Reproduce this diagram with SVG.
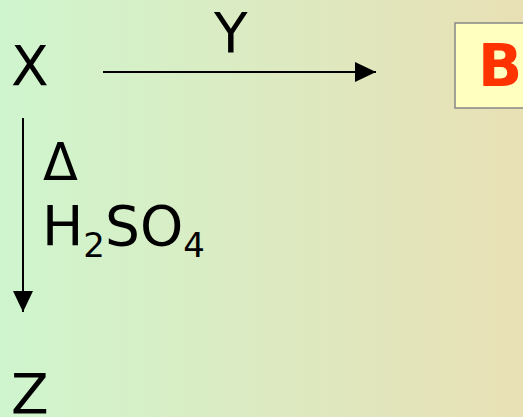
<svg xmlns="http://www.w3.org/2000/svg" width="523" height="417" viewBox="0 0 523 417">
<defs>
<linearGradient id="bg" x1="0" y1="0" x2="1" y2="0">
<stop offset="0" stop-color="#CFF5CE"/>
<stop offset="1" stop-color="#E9E0B5"/>
</linearGradient>
<marker id="ah" viewBox="0 0 21 20" refX="21" refY="10" markerWidth="21" markerHeight="20" markerUnits="userSpaceOnUse" orient="auto">
<path d="M0,0 L21,10 L0,20 Z" fill="#000"/>
</marker>
<style>
.t{font-family:"DejaVu Sans",sans-serif;font-size:55px;fill:#000}
.c{stroke:#000;stroke-width:2;fill:none;marker-end:url(#ah)}
</style>
</defs>
<rect width="523" height="417" fill="url(#bg)"/>
<g id="connectors">
<line class="c" x1="103" y1="72" x2="376" y2="72"/>
<line class="c" x1="23" y1="118" x2="23" y2="312"/>
</g>
<g id="X"><text class="t" x="11" y="85">X</text></g>
<g id="Y"><text class="t" x="214" y="52">Y</text></g>
<g id="B">
<rect x="455" y="23" width="80" height="85" fill="#FFFFC0" stroke="#888" stroke-width="1.5"/>
<text x="478" y="86" style="font-family:'DejaVu Sans',sans-serif;font-size:58px;font-weight:bold;fill:#FF3300">B</text>
</g>
<g id="conditions">
<text class="t" x="43" y="180" style="font-size:51px">Δ</text>
<text class="t" x="42" y="245">H<tspan font-size="34" dy="12">2</tspan><tspan dy="-12">SO</tspan><tspan font-size="34" dy="12">4</tspan></text>
</g>
<g id="Z"><text class="t" x="11" y="413">Z</text></g>
</svg>
